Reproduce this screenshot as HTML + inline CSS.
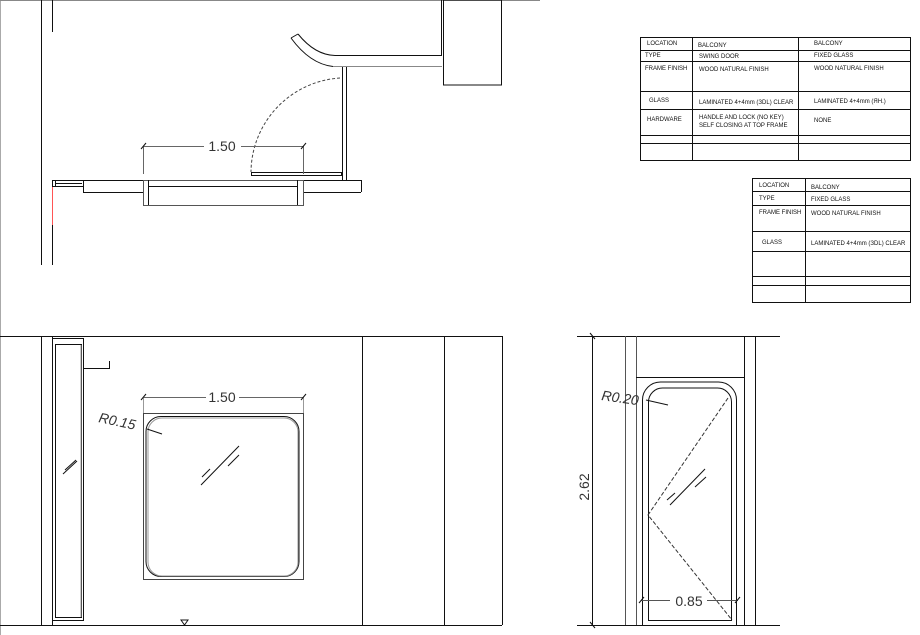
<!DOCTYPE html>
<html><head><meta charset="utf-8"><style>
html,body{margin:0;padding:0;background:#fff;}
svg{display:block;font-family:"Liberation Sans",sans-serif;}
.t{font-size:6px;fill:#111;}
.d{font-size:14px;fill:#333;}
</style></head><body>
<svg width="920" height="635" viewBox="0 0 920 635" xmlns="http://www.w3.org/2000/svg">
<g fill="none" stroke="#111" stroke-width="1">
<!-- page edges -->
<line x1="0.5" y1="0" x2="0.5" y2="635" stroke="#aaa"/>
<line x1="0" y1="0.5" x2="540" y2="0.5" stroke="#888"/>
<!-- TOP PLAN -->
<line x1="41.5" y1="0" x2="41.5" y2="265"/>
<line x1="52.5" y1="0" x2="52.5" y2="32"/>
<line x1="52.5" y1="190" x2="52.5" y2="265"/>
<line x1="52.5" y1="187" x2="52.5" y2="225" stroke="#f55"/>
<line x1="441.5" y1="0" x2="441.5" y2="55"/>
<rect x="443.5" y="0" width="58" height="85"/>
<line x1="335" y1="55.5" x2="442" y2="55.5"/>
<line x1="333" y1="66.5" x2="442" y2="66.5" stroke="#888"/>
<path d="M298,34 Q315,55 335,55.5"/>
<path d="M291,38 Q310,64 333,66.5"/>
<line x1="291" y1="38" x2="298" y2="34"/>
<line x1="342.5" y1="67" x2="342.5" y2="180"/>
<line x1="346.5" y1="67" x2="346.5" y2="180"/>
<path d="M340,78 A95,95 0 0 0 251,172" stroke-dasharray="3,2" stroke="#444"/>
<rect x="251.5" y="172.5" width="90" height="3"/>
<line x1="143" y1="146.5" x2="204" y2="146.5" stroke="#666"/>
<line x1="241" y1="146.5" x2="304" y2="146.5" stroke="#666"/>
<line x1="143.5" y1="146" x2="143.5" y2="174" stroke="#666"/>
<line x1="303.5" y1="146" x2="303.5" y2="174" stroke="#666"/>
<line x1="141" y1="149" x2="146" y2="143"/>
<line x1="301" y1="149" x2="306" y2="143"/>
<line x1="52" y1="180.5" x2="361" y2="180.5"/>
<line x1="361.5" y1="180" x2="361.5" y2="192"/>
<line x1="83" y1="192.5" x2="143" y2="192.5"/>
<line x1="303" y1="192.5" x2="361" y2="192.5"/>
<line x1="83.5" y1="180" x2="83.5" y2="193"/>
<rect x="52.5" y="180.5" width="3" height="6"/>
<line x1="55" y1="183.5" x2="82" y2="183.5"/>
<line x1="55" y1="186.5" x2="83" y2="186.5"/>
<rect x="143.5" y="180.5" width="160" height="25" stroke="#555"/>
<line x1="148.5" y1="180" x2="148.5" y2="205"/>
<line x1="297.5" y1="180" x2="297.5" y2="205"/>
<line x1="148" y1="186.5" x2="297" y2="186.5"/>
<!-- TABLE 1 -->
<rect x="640.5" y="37.5" width="270" height="123"/>
<line x1="692.5" y1="37" x2="692.5" y2="160"/>
<line x1="798.5" y1="37" x2="798.5" y2="160"/>
<line x1="640" y1="50.5" x2="910" y2="50.5"/>
<line x1="640" y1="61.5" x2="910" y2="61.5"/>
<line x1="640" y1="91.5" x2="910" y2="91.5"/>
<line x1="640" y1="109.5" x2="910" y2="109.5"/>
<line x1="640" y1="135.5" x2="910" y2="135.5"/>
<line x1="640" y1="143.5" x2="910" y2="143.5"/>
<!-- TABLE 2 -->
<rect x="752.5" y="178.5" width="158" height="124"/>
<line x1="805.5" y1="178" x2="805.5" y2="302"/>
<line x1="752" y1="191.5" x2="910" y2="191.5"/>
<line x1="752" y1="205.5" x2="910" y2="205.5"/>
<line x1="752" y1="231.5" x2="910" y2="231.5"/>
<line x1="752" y1="251.5" x2="910" y2="251.5"/>
<line x1="752" y1="276.5" x2="910" y2="276.5"/>
<line x1="752" y1="285.5" x2="910" y2="285.5"/>
<!-- BOTTOM LEFT ELEVATION -->
<line x1="0" y1="336.5" x2="502" y2="336.5"/>
<line x1="0" y1="625.5" x2="502" y2="625.5"/>
<line x1="41.5" y1="336" x2="41.5" y2="625"/>
<line x1="52.5" y1="336" x2="52.5" y2="625"/>
<line x1="362.5" y1="336" x2="362.5" y2="625"/>
<line x1="444.5" y1="336" x2="444.5" y2="625"/>
<line x1="502.5" y1="336" x2="502.5" y2="625"/>
<rect x="52.5" y="338.5" width="31" height="282"/>
<rect x="55.5" y="344.5" width="26" height="273"/>
<line x1="81" y1="345" x2="81" y2="617" stroke="#999"/>
<polyline points="84,368.5 109.5,368.5 109.5,361"/>
<line x1="63" y1="474" x2="77" y2="461"/>
<line x1="65" y1="470" x2="76" y2="460"/>
<rect x="143.5" y="413.5" width="160" height="166" stroke="#444"/>
<rect x="146" y="416.5" width="153" height="160" rx="15" stroke="#111"/>
<rect x="148" y="418" width="150" height="158" rx="14" stroke="#999"/>
<line x1="143" y1="397.5" x2="206" y2="397.5" stroke="#666"/>
<line x1="239" y1="397.5" x2="304" y2="397.5" stroke="#666"/>
<line x1="143.5" y1="397" x2="143.5" y2="413" stroke="#999"/>
<line x1="303.5" y1="397" x2="303.5" y2="413" stroke="#999"/>
<line x1="141" y1="400" x2="146" y2="394"/>
<line x1="301" y1="400" x2="306" y2="394"/>
<line x1="147" y1="429" x2="162" y2="434"/>
<line x1="201" y1="485" x2="239" y2="446"/>
<line x1="228" y1="466" x2="239" y2="455"/>
<line x1="202" y1="477" x2="210" y2="469"/>
<path d="M181,620 L188,620 L184.5,625 Z"/>
<!-- BOTTOM RIGHT ELEVATION -->
<line x1="577" y1="336.5" x2="780" y2="336.5"/>
<line x1="577" y1="625.5" x2="780" y2="625.5"/>
<line x1="592.5" y1="336" x2="592.5" y2="625"/>
<line x1="590" y1="333" x2="595" y2="339"/>
<line x1="590" y1="622" x2="595" y2="628"/>
<line x1="625.5" y1="336" x2="625.5" y2="625" stroke="#555"/>
<line x1="636.5" y1="336" x2="636.5" y2="625" stroke="#555"/>
<line x1="744.5" y1="336" x2="744.5" y2="625"/>
<line x1="755.5" y1="336" x2="755.5" y2="625"/>
<line x1="636" y1="377.5" x2="744" y2="377.5"/>
<path d="M642.5,625 L642.5,400 A18,18 0 0 1 660.5,382 L718.5,382 A18,18 0 0 1 736.5,400 L736.5,625"/>
<path d="M648.5,620.5 L648.5,402 A14,14 0 0 1 662.5,388 L717.5,388 A14,14 0 0 1 731.5,402 L731.5,620.5 Z"/>
<polyline points="728,398 648,515 732,620" stroke-dasharray="4,2" stroke="#333"/>
<line x1="670" y1="505" x2="705" y2="469"/>
<line x1="695" y1="487" x2="706" y2="477"/>
<line x1="667" y1="500" x2="675" y2="493"/>
<line x1="646" y1="400" x2="668" y2="405"/>
<line x1="641" y1="600.5" x2="670" y2="600.5" stroke="#555"/>
<line x1="707" y1="600.5" x2="738" y2="600.5" stroke="#555"/>
<line x1="639" y1="603" x2="644" y2="597"/>
<line x1="735" y1="603" x2="740" y2="597"/>
</g>
<text class="d" x="222" y="151" text-anchor="middle">1.50</text>
<text class="d" x="222" y="402" text-anchor="middle">1.50</text>
<text class="d" x="98" y="422" transform="rotate(12 98 422)" font-style="italic" font-size="13">R0.15</text>
<text class="d" x="601" y="400" transform="rotate(8 601 400)" font-style="italic" font-size="13">R0.20</text>
<text class="d" x="689" y="606" text-anchor="middle">0.85</text>
<text class="d" x="589" y="487" text-anchor="middle" transform="rotate(-90 589 487)">2.62</text>
<g class="t">
<text x="647" y="45">LOCATION</text><text x="698" y="47">BALCONY</text><text x="814" y="45">BALCONY</text>
<text x="645" y="57">TYPE</text><text x="699" y="58">SWING DOOR</text><text x="814" y="57">FIXED GLASS</text>
<text x="645" y="70">FRAME FINISH</text><text x="699" y="71">WOOD NATURAL FINISH</text><text x="814" y="70">WOOD NATURAL FINISH</text>
<text x="649" y="102">GLASS</text><text x="699" y="104">LAMINATED 4+4mm (ЗDL) CLEAR</text><text x="814" y="103">LAMINATED 4+4mm (ЯН.)</text>
<text x="647" y="121">HARDWARE</text><text x="699" y="119">HANDLE AND LOCK (NO KEY)</text><text x="699" y="127">SELF CLOSING AT TOP FRAME</text><text x="814" y="122">NONE</text>
<text x="759" y="187">LOCATION</text><text x="811" y="189">BALCONY</text>
<text x="759" y="200">TYPE</text><text x="811" y="201">FIXED GLASS</text>
<text x="759" y="214">FRAME FINISH</text><text x="811" y="215">WOOD NATURAL FINISH</text>
<text x="762" y="244">GLASS</text><text x="811" y="245">LAMINATED 4+4mm (ЗDL) CLEAR</text>
</g>
</svg>
</body></html>
